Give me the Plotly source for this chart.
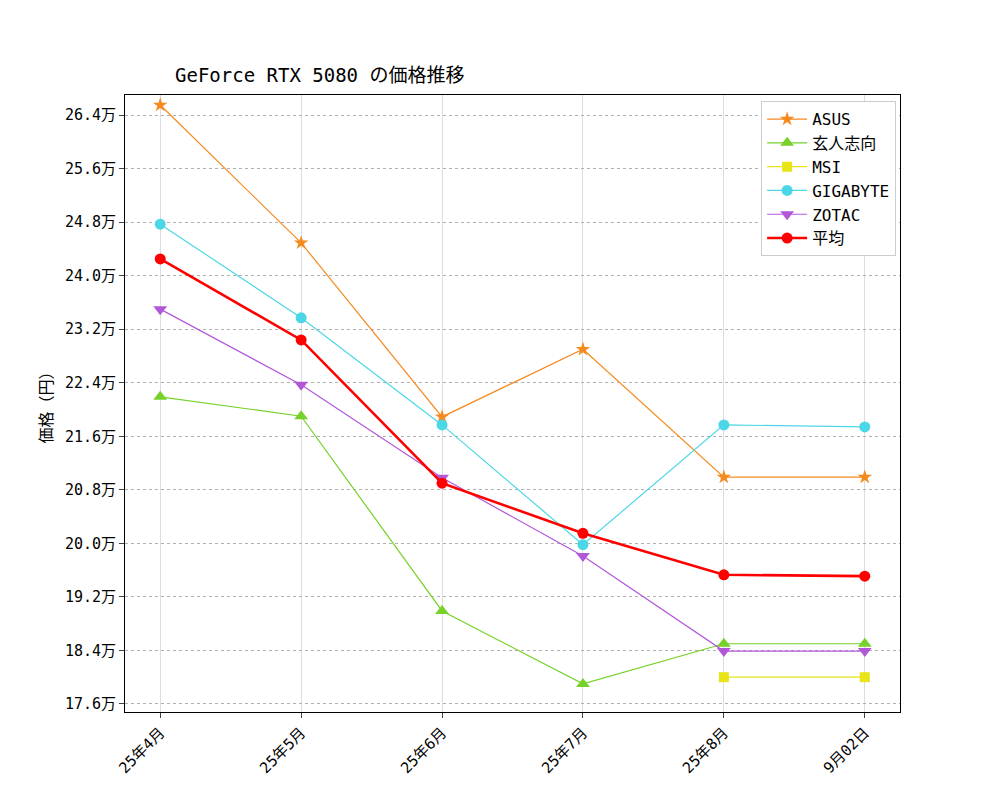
import plotly.graph_objects as go

# data (yen)
months = ["25年4月", "25年5月", "25年6月", "25年7月", "25年8月", "9月02日"]
asus = [265500, 244900, 218900, 229000, 209900, 209900]
kuroutoshikou = [221900, 219000, 189900, 179000, 185000, 185000]
msi = [None, None, None, None, 180000, 180000]
gigabyte = [247700, 233700, 217700, 199800, 217700, 217400]
zotac = [235000, 223700, 209800, 198100, 183900, 183900]
average = [242500, 230400, 209000, 201500, 195300, 195100]

tick_vals = [176000, 184000, 192000, 200000, 208000, 216000, 224000, 232000, 240000, 248000, 256000, 264000]
tick_text = [f"{v / 10000:.1f}万" for v in tick_vals]

series = [
    ("ASUS", asus, "#f58a1f", "star", 1.2, 11),
    ("玄人志向", kuroutoshikou, "#76d12a", "triangle-up", 1.2, 12),
    ("MSI", msi, "#e9e417", "square", 1.2, 10),
    ("GIGABYTE", gigabyte, "#4cd7e6", "circle", 1.2, 11),
    ("ZOTAC", zotac, "#b357d9", "triangle-down", 1.2, 12),
    ("平均", average, "#ff0000", "circle", 2.6, 11),
]

fig = go.Figure()
for name, vals, color, symbol, width, size in series:
    fig.add_trace(go.Scatter(
        x=months, y=vals, name=name, mode="lines+markers",
        line=dict(color=color, width=width),
        marker=dict(symbol=symbol, size=size, color=color),
    ))

font = "DejaVu Sans Mono, Noto Sans CJK JP"
fig.update_layout(
    width=1000, height=800,
    paper_bgcolor="white", plot_bgcolor="white",
    font=dict(family=font, size=15, color="black"),
    margin=dict(l=117, r=108, t=87, b=96, autoexpand=False),
    title=dict(text="GeForce RTX 5080 の価格推移", x=0.167, xanchor="left", y=0.916, yanchor="middle",
               font=dict(size=19)),
    showlegend=True,
    legend=dict(x=0.995, y=0.99, xanchor="right", yanchor="top", bgcolor="white",
                bordercolor="#cccccc", borderwidth=1, font=dict(size=16), tracegroupgap=0,
                itemwidth=40),
)
fig.update_xaxes(
    type="category", range=[-0.25, 5.25], tickangle=-45, automargin=False,
    showline=True, linecolor="black", mirror=True, linewidth=1,
    ticks="outside", ticklen=5, showgrid=True, gridcolor="#dddddd", gridwidth=1,
)
fig.update_yaxes(
    title=dict(text="価格（円）", font=dict(size=16), standoff=8), automargin=False,
    range=[174800, 267000], tickvals=tick_vals, ticktext=tick_text,
    showline=True, linecolor="black", mirror=True, linewidth=1,
    ticks="outside", ticklen=5, showgrid=True, gridcolor="#b0b0b0", gridwidth=0.5,
    griddash="dot", zeroline=False,
)

fig.write_html("out.html")
